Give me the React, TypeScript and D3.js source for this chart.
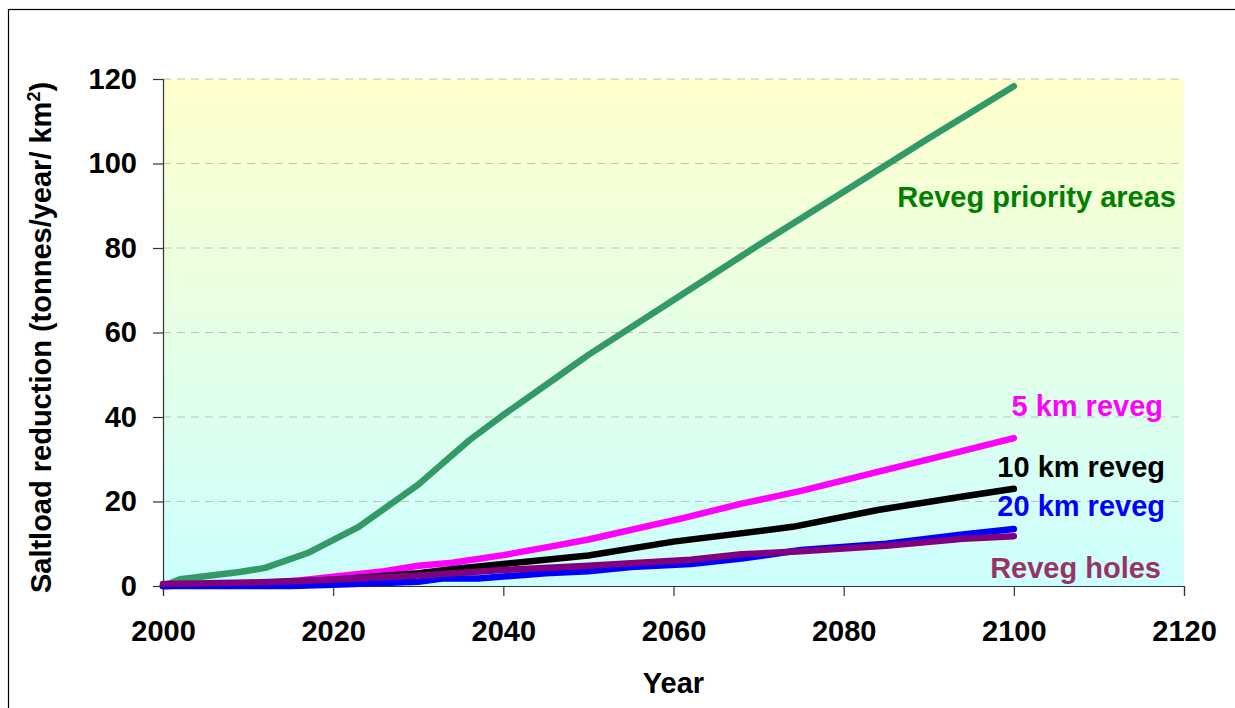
import React, { useEffect, useRef } from "react";
import * as d3 from "d3";

// values
const priorityYears = [2000, 2002, 2009, 2012, 2017, 2023, 2030, 2036, 2040, 2046, 2050, 2060, 2070, 2080, 2090, 2100];
const priorityVals = [0, 1.6, 3.3, 4.3, 7.8, 14, 24, 34.5, 40.5, 49, 54.7, 67.7, 80.7, 93.3, 106, 118.3];

const km5Years = [2000, 2010, 2016, 2020, 2026, 2030, 2034, 2040, 2046, 2050, 2061, 2068, 2075, 2084, 2094, 2100];
const km5Vals = [0, 0.5, 1.3, 2.2, 3.5, 4.8, 5.5, 7.3, 9.5, 11, 16, 19.5, 22.5, 27, 32, 35];

const km10Years = [2000, 2010, 2020, 2030, 2035, 2040, 2050, 2060, 2074, 2084, 2094, 2100];
const km10Vals = [0, 0.5, 1.5, 3, 4.2, 5.2, 7.2, 10.5, 14, 18, 21.2, 23];

const km20Years = [2000, 2015, 2020, 2030, 2033, 2037, 2045, 2050, 2055, 2062, 2068, 2075, 2085, 2094, 2100];
const km20Vals = [0, 0, 0.3, 1, 1.8, 1.8, 3, 3.5, 4.5, 5.2, 6.5, 8.5, 10, 12.2, 13.5];

const holesYears = [2000, 2010, 2020, 2030, 2040, 2050, 2062, 2068, 2075, 2085, 2094, 2100];
const holesVals = [0.5, 0.8, 1.5, 2.5, 3.8, 4.8, 6.2, 7.5, 8.2, 9.5, 11.2, 11.8];

const xTicks = [2000, 2020, 2040, 2060, 2080, 2100, 2120];
const yTicks = [0, 20, 40, 60, 80, 100, 120];

const seriesNames = ["Reveg priority areas", "5 km reveg", "10 km reveg", "20 km reveg", "Reveg holes"];
const lineColors = ["#339966", "#ff00ff", "#000000", "#0000ff", "#800080"];
const labelColors = ["#008000", "#ff00ff", "#000000", "#0000ff", "#993366"];
const labelPos = [
  [1176, 207],
  [1163, 416],
  [1165, 477],
  [1165, 516],
  [1161, 578],
];

const App: React.FC = () => {
  const svgRef = useRef<SVGSVGElement>(null);

  useEffect(() => {
    if (!svgRef.current) return;
    const svg = d3.select(svgRef.current);
    svg.selectAll("*").remove();

    const left = 163, right = 1184, top = 79, bottom = 586;
    const x = d3.scaleLinear().domain([2000, 2120]).range([left, right]);
    const y = d3.scaleLinear().domain([0, 120]).range([bottom, top]);
    const font = "'Liberation Sans', Arial, sans-serif";

    // outer frame
    svg.append("rect")
      .attr("x", 8.5).attr("y", 9.5)
      .attr("width", 1240).attr("height", 720)
      .attr("fill", "#fff")
      .attr("stroke", "#000").attr("stroke-width", 1.2);

    const defs = svg.append("defs");
    const grad = defs.append("linearGradient")
      .attr("id", "bgGrad")
      .attr("x1", 0).attr("y1", 0).attr("x2", 0).attr("y2", 1);
    grad.append("stop").attr("offset", "0%").attr("stop-color", "#ffffcc");
    grad.append("stop").attr("offset", "100%").attr("stop-color", "#ccffff");

    svg.append("rect")
      .attr("x", left).attr("y", top)
      .attr("width", right - left).attr("height", bottom - top)
      .attr("fill", "url(#bgGrad)");

    // gridlines
    svg.append("g")
      .selectAll("line")
      .data(yTicks.filter(d => d > 0))
      .enter().append("line")
      .attr("x1", left).attr("x2", right)
      .attr("y1", d => y(d)).attr("y2", d => y(d))
      .attr("stroke", "#c0c0c0")
      .attr("stroke-width", 1)
      .attr("stroke-dasharray", "8,6");

    // axes
    const yAxis = svg.append("g")
      .attr("transform", `translate(${left},0)`)
      .call(d3.axisLeft(y).tickValues(yTicks).tickSize(10).tickPadding(16).tickFormat(d3.format("d")));
    const xAxis = svg.append("g")
      .attr("transform", `translate(0,${bottom})`)
      .call(d3.axisBottom(x).tickValues(xTicks).tickSize(10).tickPadding(24).tickFormat(d3.format("d")));

    [yAxis, xAxis].forEach(a => {
      a.select(".domain").attr("stroke", "#333").attr("stroke-width", 1.2);
      a.selectAll(".tick line").attr("stroke", "#333").attr("stroke-width", 1.2);
      a.selectAll("text")
        .attr("font-family", font)
        .attr("font-size", 29)
        .attr("font-weight", "bold")
        .attr("fill", "#000");
    });

    // series
    const allYears = [priorityYears, km5Years, km10Years, km20Years, holesYears];
    const allVals = [priorityVals, km5Vals, km10Vals, km20Vals, holesVals];
    const line = d3.line<[number, number]>()
      .x(d => x(d[0]))
      .y(d => y(d[1]));

    allYears.forEach((yrs, i) => {
      const pts = yrs.map((yr, j) => [yr, allVals[i][j]] as [number, number]);
      svg.append("path")
        .datum(pts)
        .attr("d", line)
        .attr("fill", "none")
        .attr("stroke", lineColors[i])
        .attr("stroke-width", 6.5)
        .attr("stroke-linejoin", "round")
        .attr("stroke-linecap", "round");
    });

    // labels
    seriesNames.forEach((name, i) => {
      svg.append("text")
        .attr("x", labelPos[i][0])
        .attr("y", labelPos[i][1])
        .attr("text-anchor", "end")
        .attr("font-family", font)
        .attr("font-size", 29)
        .attr("font-weight", "bold")
        .attr("fill", labelColors[i])
        .text(name);
    });

    // axis titles
    svg.append("text")
      .attr("x", (left + right) / 2)
      .attr("y", 693)
      .attr("text-anchor", "middle")
      .attr("font-family", font)
      .attr("font-size", 29)
      .attr("font-weight", "bold")
      .text("Year");

    const yt = svg.append("text")
      .attr("transform", `translate(51,${(78 + 597) / 2}) rotate(-90)`)
      .attr("text-anchor", "middle")
      .attr("font-family", font)
      .attr("font-size", 29)
      .attr("font-weight", "bold");
    yt.append("tspan").text("Saltload reduction (tonnes/year/ km");
    yt.append("tspan").attr("font-size", 18).attr("dy", -11).text("2");
    yt.append("tspan").attr("dy", 11).text(")");
  }, []);

  return (
    <svg
      ref={svgRef}
      width={1235}
      height={708}
      style={{ position: "absolute", left: 0, top: 0 }}
    />
  );
};

export default App;
